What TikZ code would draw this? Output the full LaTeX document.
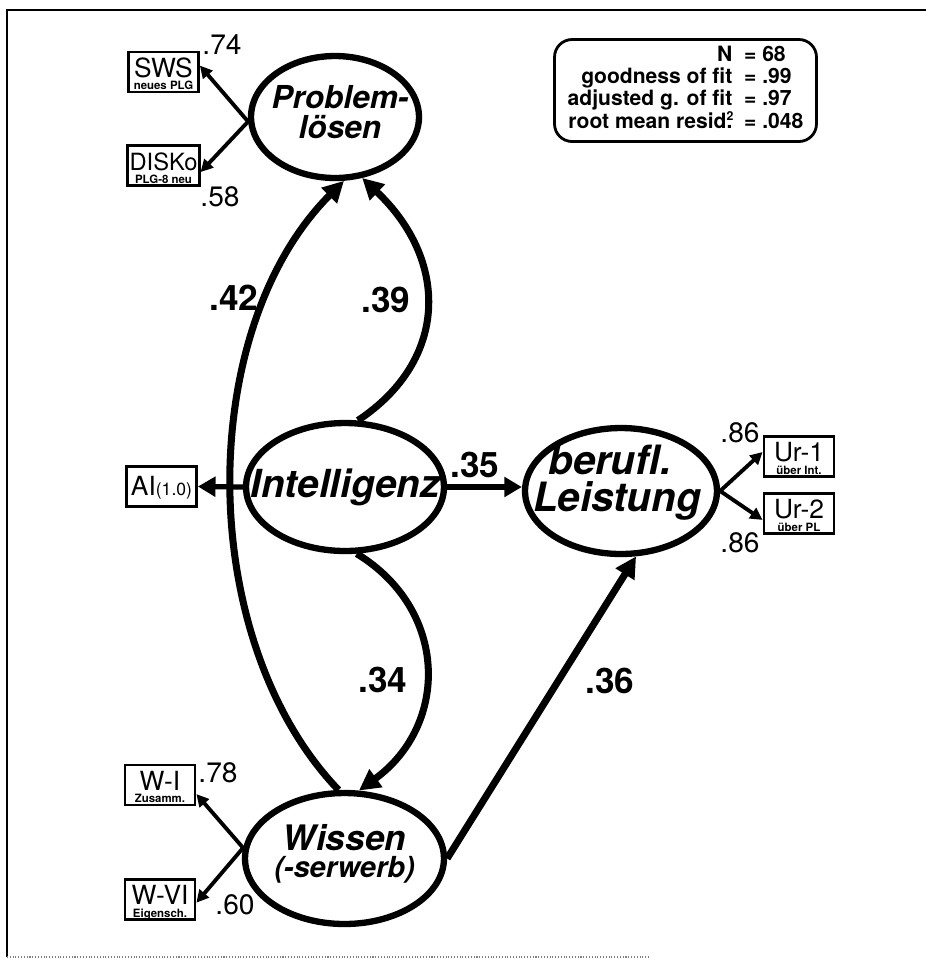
\documentclass[tikz,border=0pt]{standalone}
\usepackage{fontspec}
\setmainfont{TeX Gyre Heros}
\usetikzlibrary{shapes.geometric,arrows.meta,positioning}

\begin{document}
\begin{tikzpicture}[x=0.02cm, y=-0.02cm, thick,
    latent/.style={draw, ellipse, line width=3.6pt, inner sep=0pt},
    lattext/.style={align=center, inner sep=0pt},
    obs/.style={draw, rectangle, line width=1.6pt, inner sep=1pt, minimum width=1.4cm, minimum height=0.8cm,
        text height=10.8pt, text depth=5pt, font=\fontsize{15}{15}\selectfont},
    sublbl/.style={anchor=south, inner sep=1.2pt, text height=4.7pt, text depth=0.6pt, font=\bfseries\fontsize{6.5}{6.5}\selectfont},
    coef/.style={font=\bfseries\fontsize{20}{20}\selectfont, inner sep=0pt},
    load/.style={font=\fontsize{16}{16}\selectfont, inner sep=0pt},
    cov/.style={line width=4pt, -{Triangle[length=12pt, width=12pt]}},
    reg/.style={line width=3pt, -{Triangle[length=10pt, width=11pt]}},
    ind/.style={line width=2.2pt, -{Triangle[length=7pt, width=7pt]}}]
        \useasboundingbox (0,0) rectangle (926,965);
        % Frame
        \draw[line width=1.2pt] (926,10) -- (7,10) -- (7,957);
        \draw[line width=0.6pt, gray, densely dotted] (7,957) -- (650,957);

        % Nodes
        \node[latent, minimum width=3.36cm, minimum height=2.44cm,
            label={[lattext, font=\bfseries\itshape\fontsize{18}{17.5}\selectfont, xshift=0.1cm, yshift=0.1cm]center:{Problem-\\lösen}}] (prob) at (335,117) {};
        \node[latent, minimum width=3.96cm, minimum height=2.56cm,
            label={[lattext, font=\bfseries\itshape\fontsize{22}{22}\selectfont]center:Intelligenz}] (intel) at (345,487) {};
        \node[latent, minimum width=3.84cm, minimum height=2.52cm,
            label={[lattext, font=\bfseries\itshape\fontsize{23}{21}\selectfont, xshift=-0.08cm, yshift=0.16cm]center:{berufl.\kern0.28cm\\Leistung}}] (leist) at (621,491) {};
        \node[latent, minimum width=3.98cm, minimum height=2.62cm,
            label={[lattext, font=\bfseries\itshape\fontsize{20}{15.4}\selectfont, yshift=0.09cm]center:{Wissen\\{\fontsize{16.5}{15.4}\selectfont(-serwerb)}}}] (wiss) at (344.5,858.5) {};

        \node[obs, label={[sublbl]south:neues PLG}] (sws) at (163.5,72) {SWS};
        \node[obs, font=\fontsize{13.5}{13.5}\selectfont, label={[sublbl]south:PLG-8 neu}] (disko) at (163.5,165.5) {DISKo};
        \node[obs, text depth=0pt] (ai) at (161.5,486.5) {AI{\fontsize{10}{10}\selectfont(1.0)}};
        \node[obs, label={[sublbl]south:über Int.}] (ur1) at (799,456.5) {Ur-1};
        \node[obs, label={[sublbl]south:über PL}] (ur2) at (799,513.5) {Ur-2};
        \node[obs, label={[sublbl]south:Zusamm.}] (wi) at (160,785) {W-I};
        \node[obs, label={[sublbl]south:Eigensch.}] (wvi) at (160,899.5) {W-VI};

        \node[draw, rounded corners=10pt, line width=1.6pt, minimum width=5.24cm, minimum height=2.04cm, inner sep=0pt,
            font=\bfseries\fontsize{12}{12}\selectfont] (stats) at (685.5,90.5)
            {\begin{tabular}{@{}r@{\ \ }l@{}}
                N & = 68\\
                goodness of fit\ & = .99\\
                adjusted g. of fit & = .97\\
                root mean resid\rlap{\raisebox{0.4em}{\fontsize{7}{7}\selectfont 2}}. & = .048
            \end{tabular}};

        % Coefficients
        \node[coef] (c42) at (234,298) {.42};
        \node[coef] (c39) at (386,300) {.39};
        \node[coef] (c34) at (383,680) {.34};
        \node[coef] (c36) at (610,681) {.36};
        \node[coef] (c35) at (475,465) {.35};
        \node[load] (l74) at (222,45) {.74};
        \node[load] (l58) at (220,197) {.58};
        \node[load] (l86a) at (740,433) {.86};
        \node[load] (l86b) at (740,543) {.86};
        \node[load] (l78) at (218,773) {.78};
        \node[load] (l60) at (235,905) {.60};

        % Edges
        \draw[ind] (prob.183) -- (sws.10);
        \draw[ind] (prob.183) -- (disko.-10);
        \draw[reg] (intel.west) -- (ai.east);
        \draw[reg] (intel.east) -- (intel.east -| leist.west);
        \draw[ind] (leist.east) -- (ur1.173);
        \draw[ind] (leist.east) -- (ur2.190);
        \draw[ind] (wiss.174) -- (wi.-14);
        \draw[ind] (wiss.174) -- (wvi.-5);
        \draw[cov] (wiss.95) .. controls (195,640) and (195,330) .. (prob.-82);
        \draw[cov] (intel.79) .. controls (449,360) and (449,260) .. (prob.-66);
        \draw[cov] (intel.-80) .. controls (449,610) and (449,725) .. (wiss.78);
        \draw[cov] (wiss.east) -- (leist.-77);
    \end{tikzpicture}
\end{document}
